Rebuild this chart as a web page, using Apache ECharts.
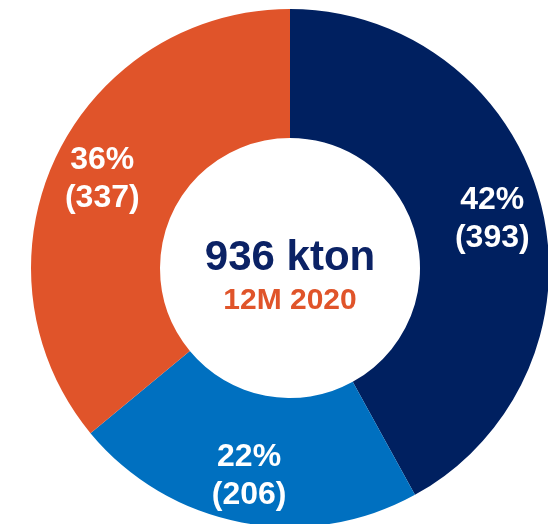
<!DOCTYPE html>
<html>
<head>
<meta charset="utf-8">
<script src="https://cdn.jsdelivr.net/npm/echarts@6/dist/echarts.min.js"></script>
<style>
html, body { margin: 0; padding: 0; background: #fff; }
#chart { width: 548px; height: 524px; }
</style>
</head>
<body>
<div id="chart"></div>
<script>
// 数据
var categories = ['A', 'B', 'C'];
var values = [393, 206, 337];
var colors = ['#002060', '#0070C0', '#E0542A'];
var labelOffsets = [[11, 0], [-4, 14], [-9, -5]];
var totalText = '936 kton';
var periodText = '12M 2020';

var myChart = echarts.init(document.getElementById('chart'));

var seriesData = [];
for (var i = 0; i < values.length; i++) {
    seriesData.push({
        name: categories[i],
        value: values[i],
        itemStyle: { color: colors[i] },
        label: { offset: labelOffsets[i] }
    });
}

var option = {
    backgroundColor: '#fff',
    animation: false,
    graphic: [
        {
            type: 'text',
            x: 290,
            y: 258,
            style: {
                text: totalText,
                fill: '#0B2265',
                font: 'bold 42px "Liberation Sans", Arial, sans-serif',
                textAlign: 'center',
                textVerticalAlign: 'middle'
            }
        },
        {
            type: 'text',
            x: 290,
            y: 301,
            style: {
                text: periodText,
                fill: '#E0542A',
                font: 'bold 30px "Liberation Sans", Arial, sans-serif',
                textAlign: 'center',
                textVerticalAlign: 'middle'
            }
        }
    ],
    series: [
        {
            type: 'pie',
            center: [290, 268],
            radius: [130, 259],
            startAngle: 90,
            clockwise: true,
            percentPrecision: 0,
            silent: true,
            label: {
                show: true,
                position: 'inside',
                formatter: '{d}%\n({c})',
                color: '#fff',
                fontSize: 32,
                fontWeight: 'bold',
                lineHeight: 38,
                fontFamily: '"Liberation Sans", Arial, sans-serif'
            },
            labelLine: { show: false },
            itemStyle: { borderWidth: 0 },
            data: seriesData
        }
    ]
};

myChart.setOption(option);
</script>
</body>
</html>
